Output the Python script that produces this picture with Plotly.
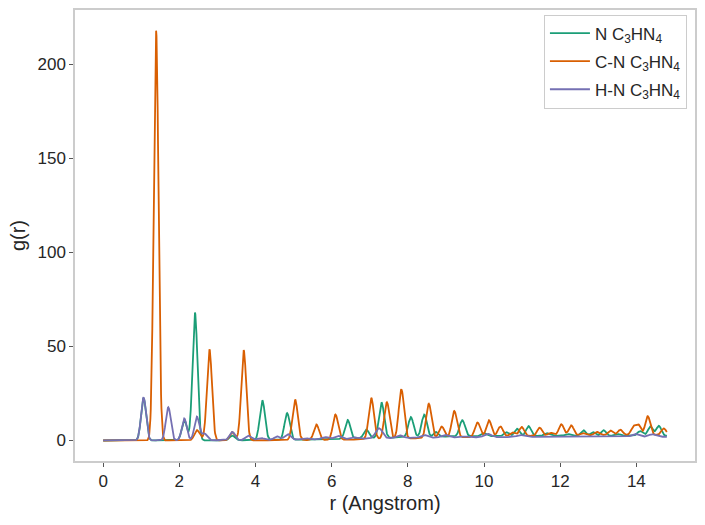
import numpy as np
import plotly.graph_objects as go

# ---- data (peak tables: position [A], height, width) ----
R_MAX = 14.8
R_STEP = 0.01

N_R = [1.06, 2.13, 2.41, 3.39, 4.18, 4.83, 6.42, 6.91, 7.31, 8.08, 8.43, 8.74, 9.43,
       10.0, 10.59, 10.87, 11.17, 11.65, 12.2, 12.61, 12.86, 13.14, 13.5, 14.1, 14.37, 14.59]
N_G = [22.5, 11.0, 68.0, 2.5, 21.1, 14.2, 10.0, 4.6, 18.8, 10.7, 11.9, 2.5, 8.6,
       1.5, 2.0, 3.8, 5.2, 1.4, 1.0, 3.0, 2.0, 3.0, 1.0, 2.5, 5.0, 5.3]
N_W = [0.065, 0.065, 0.065, 0.07, 0.068, 0.068, 0.068, 0.068, 0.068, 0.068, 0.068, 0.06, 0.07,
       0.07, 0.06, 0.065, 0.065, 0.07, 0.07, 0.065, 0.06, 0.065, 0.07, 0.07, 0.065, 0.065]
N_BG = (2.5, 7.0, 1.2)   # background level, midpoint, spread

CN_R = [1.39, 2.44, 2.52, 2.79, 3.39, 3.69, 5.04, 5.6, 6.1, 7.04, 7.45, 7.83, 8.55, 8.89,
        9.22, 9.83, 10.13, 10.43, 10.75, 10.99, 11.46, 11.75, 12.03, 12.29, 12.6, 12.97,
        13.32, 13.58, 13.93, 14.06, 14.3, 14.72]
CN_G = [218.0, 4.2, 2.5, 48.5, 4.4, 48.0, 21.6, 8.2, 13.4, 22.0, 19.6, 26.3, 18.3, 6.0,
        14.1, 7.7, 8.7, 5.3, 2.0, 4.8, 4.3, 1.5, 6.0, 5.4, 1.2, 1.8,
        2.5, 2.9, 4.5, 5.0, 10.0, 3.5]
CN_W = [0.062, 0.06, 0.06, 0.066, 0.066, 0.066, 0.068, 0.068, 0.068, 0.068, 0.068, 0.068, 0.068, 0.068,
        0.068, 0.068, 0.068, 0.068, 0.07, 0.065, 0.065, 0.07, 0.065, 0.065, 0.07, 0.07,
        0.065, 0.065, 0.065, 0.06, 0.065, 0.065]
CN_BG = (3.0, 9.0, 1.5)

HN_R = [1.06, 1.71, 2.13, 2.46, 2.66, 3.39, 3.82, 4.15, 4.57, 4.85, 5.3, 5.82, 6.16, 6.6,
        7.24, 7.79, 8.42, 8.97, 9.5, 10.1, 10.95, 13.97, 14.41]
HN_G = [22.9, 17.6, 11.6, 12.6, 3.5, 4.4, 2.3, 1.0, 1.8, 3.0, 0.8, 1.2, 1.8, 0.8,
        5.5, 1.5, 1.5, 1.4, 0.5, 1.8, 1.0, 1.5, 1.3]
HN_W = [0.065, 0.065, 0.065, 0.065, 0.07, 0.07, 0.08, 0.08, 0.08, 0.08, 0.09, 0.09, 0.09, 0.09,
        0.09, 0.09, 0.09, 0.09, 0.09, 0.09, 0.09, 0.09, 0.09]
HN_BG = (2.0, 7.0, 1.5)

SERIES_NAMES = ["N C<sub>3</sub>HN<sub>4</sub>",
                "C-N C<sub>3</sub>HN<sub>4</sub>",
                "H-N C<sub>3</sub>HN<sub>4</sub>"]
COLORS = ["#1b9e77", "#d95f02", "#7570b3"]
X_TICKS = [0, 2, 4, 6, 8, 10, 12, 14]
Y_TICKS = [0, 50, 100, 150, 200]

r = np.arange(0, R_MAX + R_STEP / 2, R_STEP)


def build(centers, heights, widths, bg):
    g = np.zeros_like(r)
    for c, h, w in zip(centers, heights, widths):
        g += h * np.exp(-0.5 * ((r - c) / w) ** 2)
    lvl, mid, spr = bg
    g += lvl / (1 + np.exp(-(r - mid) / spr))
    return g


curves = [build(N_R, N_G, N_W, N_BG),
          build(CN_R, CN_G, CN_W, CN_BG),
          build(HN_R, HN_G, HN_W, HN_BG)]

FONT = "Liberation Sans, Arial, sans-serif"
TXT = "#262626"

fig = go.Figure()
for i, (name, col, g) in enumerate(zip(SERIES_NAMES, COLORS, curves)):
    fig.add_trace(go.Scatter(x=r, y=g, mode="lines", name=name,
                             line=dict(color=col, width=1.8),
                             legendgroup=f"g{i}"))

axis_common = dict(showgrid=False, zeroline=False, showline=True, mirror=True,
                   linecolor="#cccccc", linewidth=1.5, ticks="outside", ticklen=4,
                   tickwidth=1, tickcolor="#555555",
                   tickfont=dict(family=FONT, size=17, color=TXT))

fig.update_layout(
    width=705, height=525,
    margin=dict(l=75, r=10, t=8, b=64),
    paper_bgcolor="white", plot_bgcolor="white",
    font=dict(family=FONT, color=TXT),
    xaxis=dict(range=[-0.74, 15.54], tickvals=X_TICKS,
               title=dict(text="r (Angstrom)", font=dict(family=FONT, size=20, color=TXT), standoff=6),
               **axis_common),
    yaxis=dict(range=[-10.9, 229.0], tickvals=Y_TICKS,
               title=dict(text="g(r)", font=dict(family=FONT, size=20, color=TXT), standoff=6),
               **axis_common),
    legend=dict(x=0.987, y=0.99, xanchor="right", yanchor="top",
                bgcolor="white", bordercolor="#cccccc", borderwidth=1,
                font=dict(family=FONT, size=17, color=TXT), tracegroupgap=3,
                itemwidth=40),
    showlegend=True,
)

fig.write_html("out.html")
